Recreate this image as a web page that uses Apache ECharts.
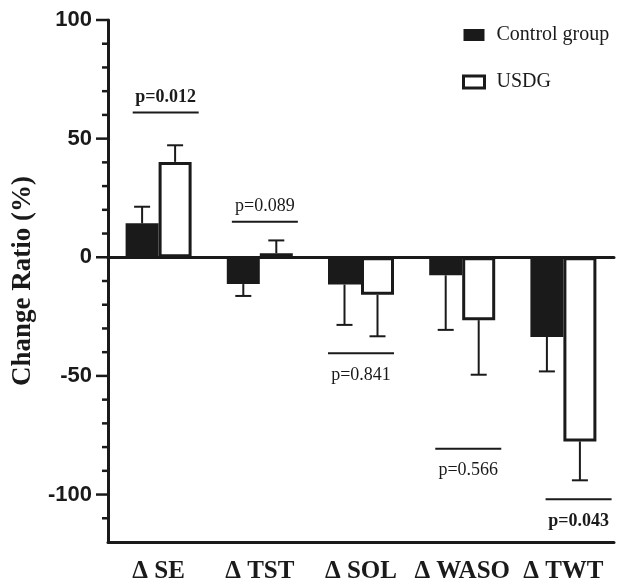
<!DOCTYPE html>
<html>
<head>
<meta charset="utf-8">
<script src="https://cdn.jsdelivr.net/npm/echarts@6/dist/echarts.min.js"></script>
<style>
html,body{margin:0;padding:0;background:#fff;}
#chart{width:618px;height:584px;}
</style>
</head>
<body>
<div id="chart"></div>
<script>
// ---- data ----
var categories = ['\u0394 SE', '\u0394 TST', '\u0394 SOL', '\u0394 WASO', '\u0394 TWT'];
var controlValues = [14.3, -11.3, -11.5, -7.6, -33.6];
var controlErr = [7, 5, 17, 23, 14.5];
var usdgValues = [40.2, 1.7, -15.8, -26.5, -77.6];
var usdgErr = [7, 5.4, 17.5, 23, 16.4];
var pTexts = ['p=0.012', 'p=0.089', 'p=0.841', 'p=0.566', 'p=0.043'];
var pLineValues = [61, 15, -40.5, -80.7, -102];
var yMajorTicks = [-100, -50, 0, 50, 100];
var yMinorTicks = [-110, -90, -80, -70, -60, -40, -30, -20, -10, 10, 20, 30, 40, 60, 70, 80, 90];

// ---- rendering ----
var INK = '#1a1a1a';
var BAR_W = 33;
var MAJOR_LEN = 12, MINOR_LEN = 6;
var GRID_LEFT = 108;
var pShift = [0.07, 0.05, 0, 0.06, 0.15]; // annotation line shift, in category widths
var serif = 'Liberation Serif';
var sans = 'Liberation Sans';

var chart = echarts.init(document.getElementById('chart'), null, {renderer: 'canvas'});

function errData(vals, errs) {
  return vals.map(function (v, i) { return [i, v, errs[i]]; });
}

function errRender(side) {
  return function (params, api) {
    var i = api.value(0), v = api.value(1), e = api.value(2);
    var sign = v >= 0 ? 1 : -1;
    var p0 = api.coord([i, v]);
    var p1 = api.coord([i, v + sign * e]);
    var x = p0[0] + side * BAR_W / 2;
    var style = {stroke: INK, lineWidth: 2};
    return {
      type: 'group',
      children: [
        {type: 'line', shape: {x1: x, y1: p0[1], x2: x, y2: p1[1]}, style: style},
        {type: 'line', shape: {x1: x - 8, y1: p1[1], x2: x + 8, y2: p1[1]}, style: style}
      ]
    };
  };
}

var annData = pLineValues.map(function (y, i) { return [i, y, pTexts[i]]; });

var option = {
  backgroundColor: '#fff',
  animation: false,
  grid: {left: GRID_LEFT, right: 4, top: 20, bottom: 41, containLabel: false},
  legend: {
    orient: 'vertical',
    left: 462,
    top: 25,
    padding: 0,
    itemWidth: 21,
    itemHeight: 12,
    itemGap: 27,
    icon: 'rect',
    textStyle: {fontFamily: serif, fontSize: 20, color: INK, padding: [0, 0, 0, 7]},
    data: [
      {name: 'Control group'},
      {name: 'USDG', itemStyle: {color: '#fff', borderColor: INK, borderWidth: 3}}
    ]
  },
  xAxis: [
    {
      type: 'category',
      data: categories,
      position: 'bottom',
      axisLine: {onZero: false, lineStyle: {color: INK, width: 3}},
      axisTick: {show: false},
      axisLabel: {fontFamily: serif, fontWeight: 'bold', fontSize: 25, color: INK, margin: 17, interval: 0}
    },
    {
      type: 'category',
      data: categories,
      position: 'bottom',
      axisLine: {onZero: true, lineStyle: {color: INK, width: 3}},
      axisTick: {show: false},
      axisLabel: {show: false}
    }
  ],
  yAxis: [
    {
      type: 'value',
      min: -120,
      max: 100,
      interval: 10,
      name: 'Change Ratio (%)',
      nameLocation: 'middle',
      nameGap: 71,
      nameTextStyle: {fontFamily: serif, fontWeight: 'bold', fontSize: 27, color: INK},
      axisLine: {show: true, lineStyle: {color: INK, width: 3}},
      axisTick: {show: false},
      axisLabel: {
        fontFamily: sans, fontWeight: 'bold', fontSize: 22, color: INK, margin: 16,
        formatter: function (v) { return yMajorTicks.indexOf(v) >= 0 ? String(v) : ''; }
      },
      splitLine: {show: false}
    }
  ],
  series: [
    {
      name: 'Control group',
      type: 'bar',
      data: controlValues,
      barWidth: BAR_W,
      barGap: '0%',
      itemStyle: {color: INK, borderColor: INK, borderWidth: 0}
    },
    {
      name: 'USDG',
      type: 'bar',
      data: usdgValues,
      barWidth: BAR_W,
      barGap: '0%',
      itemStyle: {color: '#fff', borderColor: INK, borderWidth: 3}
    },
    {
      type: 'custom',
      renderItem: errRender(-1),
      data: errData(controlValues, controlErr),
      encode: {x: 0, y: 1},
      z: 3,
      silent: true
    },
    {
      type: 'custom',
      renderItem: errRender(1),
      data: errData(usdgValues, usdgErr),
      encode: {x: 0, y: 1},
      z: 3,
      silent: true
    },
    {
      type: 'custom',
      data: annData,
      encode: {x: 0, y: 1},
      z: 4,
      silent: true,
      renderItem: function (params, api) {
        var i = api.value(0), y = api.value(1);
        var txt = pTexts[params.dataIndex];
        var p = api.coord([i, y]);
        var cw = api.size([1, 0])[0];
        var cx = p[0] + pShift[params.dataIndex] * cw;
        var below = y < 0;
        var bold = parseFloat(txt.split('=')[1]) < 0.05;
        return {
          type: 'group',
          children: [
            {type: 'line', shape: {x1: cx - 33, y1: p[1], x2: cx + 33, y2: p[1]}, style: {stroke: INK, lineWidth: 2}},
            {type: 'text', x: cx, y: p[1] + (below ? 22 : -15),
              style: {text: txt, fill: INK, fontFamily: serif, fontSize: 18, fontWeight: bold ? 'bold' : 'normal',
                align: 'center', verticalAlign: 'middle'}}
          ]
        };
      }
    }
  ]
};
chart.setOption(option);

// y-axis ticks positioned through the axis scale
function tickLines(values, len) {
  return values.map(function (v) {
    var py = chart.convertToPixel({yAxisIndex: 0}, v);
    return {
      type: 'line', z: 100, silent: true,
      shape: {x1: GRID_LEFT - len, y1: py, x2: GRID_LEFT, y2: py},
      style: {stroke: INK, lineWidth: 2.5}
    };
  });
}
chart.setOption({
  graphic: {elements: tickLines(yMajorTicks, MAJOR_LEN).concat(tickLines(yMinorTicks, MINOR_LEN))}
});
</script>
</body>
</html>
